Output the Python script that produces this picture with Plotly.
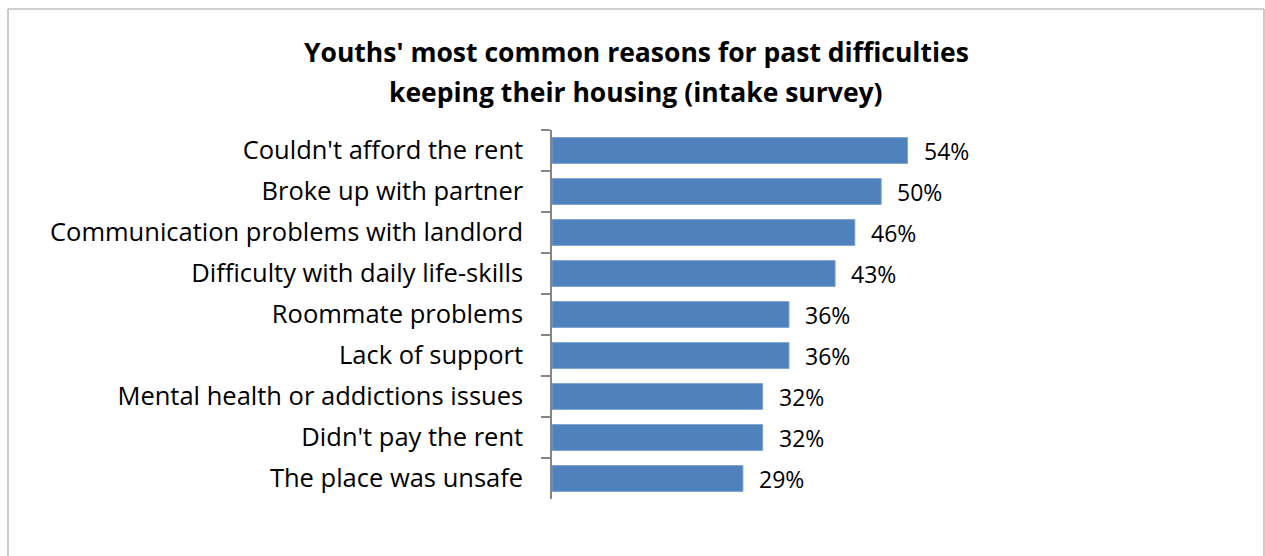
import plotly.graph_objects as go

# Survey results: share of youths citing each reason (intake survey)
reasons = [
    "Couldn't afford the rent",
    "Broke up with partner",
    "Communication problems with landlord",
    "Difficulty with daily life-skills",
    "Roommate problems",
    "Lack of support",
    "Mental health or addictions issues",
    "Didn't pay the rent",
    "The place was unsafe",
]
percent = [54, 50, 46, 43, 36, 36, 32, 32, 29]
value_labels = ["54%", "50%", "46%", "43%", "36%", "36%", "32%", "32%", "29%"]

title_line1 = "Youths' most common reasons for past difficulties"
title_line2 = "keeping their housing (intake survey)"

FONT = "'Open Sans', Lato, sans-serif"
W, H = 1265, 556
# plot-area edges in pixels
L, R, T, B = 552, 947, 130, 499

fig = go.Figure()
fig.add_trace(go.Bar(
    y=reasons,
    x=percent,
    orientation="h",
    marker=dict(color="#4F81BD", line=dict(color="#7FA3D1", width=1)),
    hoverinfo="skip",
))

for r, v, lab in zip(reasons, percent, value_labels):
    fig.add_annotation(x=v, y=r, text=lab, showarrow=False,
                       xanchor="left", xshift=14,
                       font=dict(family=FONT, size=23, color="#000000"))

pw, ph = R - L, B - T
def px(x):
    return (x - L) / pw
def py(y):
    return (B - y) / ph

# two-line title, set as separate lines for wider line spacing
title_font = dict(family=FONT, size=26.5, color="#000000", weight="bold")
for txt, yc in ((title_line1, 52), (title_line2, 92)):
    fig.add_annotation(xref="paper", yref="paper", x=px(636), y=py(yc),
                       text=txt, showarrow=False, xanchor="center",
                       yanchor="middle", font=title_font)

# outer chart border (left, top, right)
border = dict(color="#BFBFBF", width=1.6)
fig.add_shape(type="line", xref="paper", yref="paper",
              x0=px(8), x1=px(8), y0=py(9), y1=py(600), line=border)
fig.add_shape(type="line", xref="paper", yref="paper",
              x0=px(8), x1=px(1264), y0=py(9), y1=py(9), line=border)
fig.add_shape(type="line", xref="paper", yref="paper",
              x0=px(1264), x1=px(1264), y0=py(9), y1=py(600), line=border)

fig.update_layout(
    width=W, height=H,
    margin=dict(l=L, r=W - R, t=T, b=H - B, pad=0),
    paper_bgcolor="white",
    plot_bgcolor="white",
    bargap=0.37,
    showlegend=False,
    xaxis=dict(range=[0, 60], visible=False, fixedrange=True),
    yaxis=dict(
        autorange="reversed",
        showline=True, linecolor="#868686", linewidth=1.5,
        ticks="outside", ticklen=9, tickcolor="#868686", tickwidth=1.5,
        tickson="boundaries",
        ticklabelstandoff=22,
        showgrid=False,
        tickfont=dict(family=FONT, size=25.5, color="#000000"),
        fixedrange=True,
    ),
)

fig.write_html("out.html")
